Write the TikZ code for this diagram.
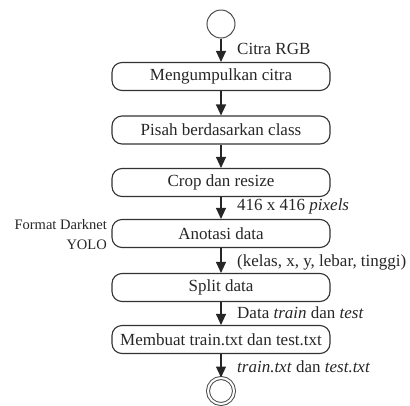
\documentclass[tikz,border=0pt]{standalone}
\usepackage{fontspec}
\setmainfont{Liberation Serif}
\usetikzlibrary{arrows.meta}
\begin{document}
\begin{tikzpicture}[x=1pt,y=-1pt,
  font=\fontsize{17}{20}\selectfont,
  stepbox/.style={draw=black!80, line width=1.1pt, rounded corners=10pt, minimum width=218pt, minimum height=28pt, inner sep=0pt},
  lbl/.style={anchor=west, inner sep=0pt},
  flow/.style={draw=black!85, line width=1.1pt, -{Triangle[length=11pt,width=10pt]}},
  every node/.style={text=black!85}]
\useasboundingbox (0,0) rectangle (410,405);
\node[circle, draw=black!70, line width=1pt, minimum size=28pt, inner sep=0pt] (start) at (221,24) {};
\node[stepbox] (b1) at (221,76.5) {Mengumpulkan citra};
\node[stepbox] (b2) at (221,130) {Pisah berdasarkan class};
\node[stepbox] (b3) at (221,182.5) {Crop dan resize};
\node[stepbox] (b4) at (221,233.5) {Anotasi data};
\node[stepbox] (b5) at (221,287.5) {Split data};
\node[stepbox] (b6) at (221,339.5) {Membuat train.txt dan test.txt};
\node[circle, draw=black!70, double=white, double distance=2pt, line width=1pt, minimum size=26pt, inner sep=0pt] (end) at (221,391) {};
\draw[flow] (start) -- (b1);
\draw[flow] (b1) -- (b2);
\draw[flow] (b2) -- (b3);
\draw[flow] (b3) -- (b4);
\draw[flow] (b4) -- (b5);
\draw[flow] (b5) -- (b6);
\draw[flow] (b6) -- (end);
\node[lbl] (l1) at (237,49) {Citra RGB};
\node[lbl] (l2) at (237,206) {416 x 416 \textit{pixels}};
\node[lbl] (l3) at (237,262) {(kelas, x, y, lebar, tinggi)};
\node[lbl] (l4) at (237,313) {Data \textit{train} dan \textit{test}};
\node[lbl] (l5) at (237,367) {\textit{train.txt} dan \textit{test.txt}};
\node[anchor=east, align=right, inner sep=0pt, font=\fontsize{14.5}{20}\selectfont] (fmt) at (107,235) {Format Darknet\\YOLO};
\end{tikzpicture}
\end{document}
